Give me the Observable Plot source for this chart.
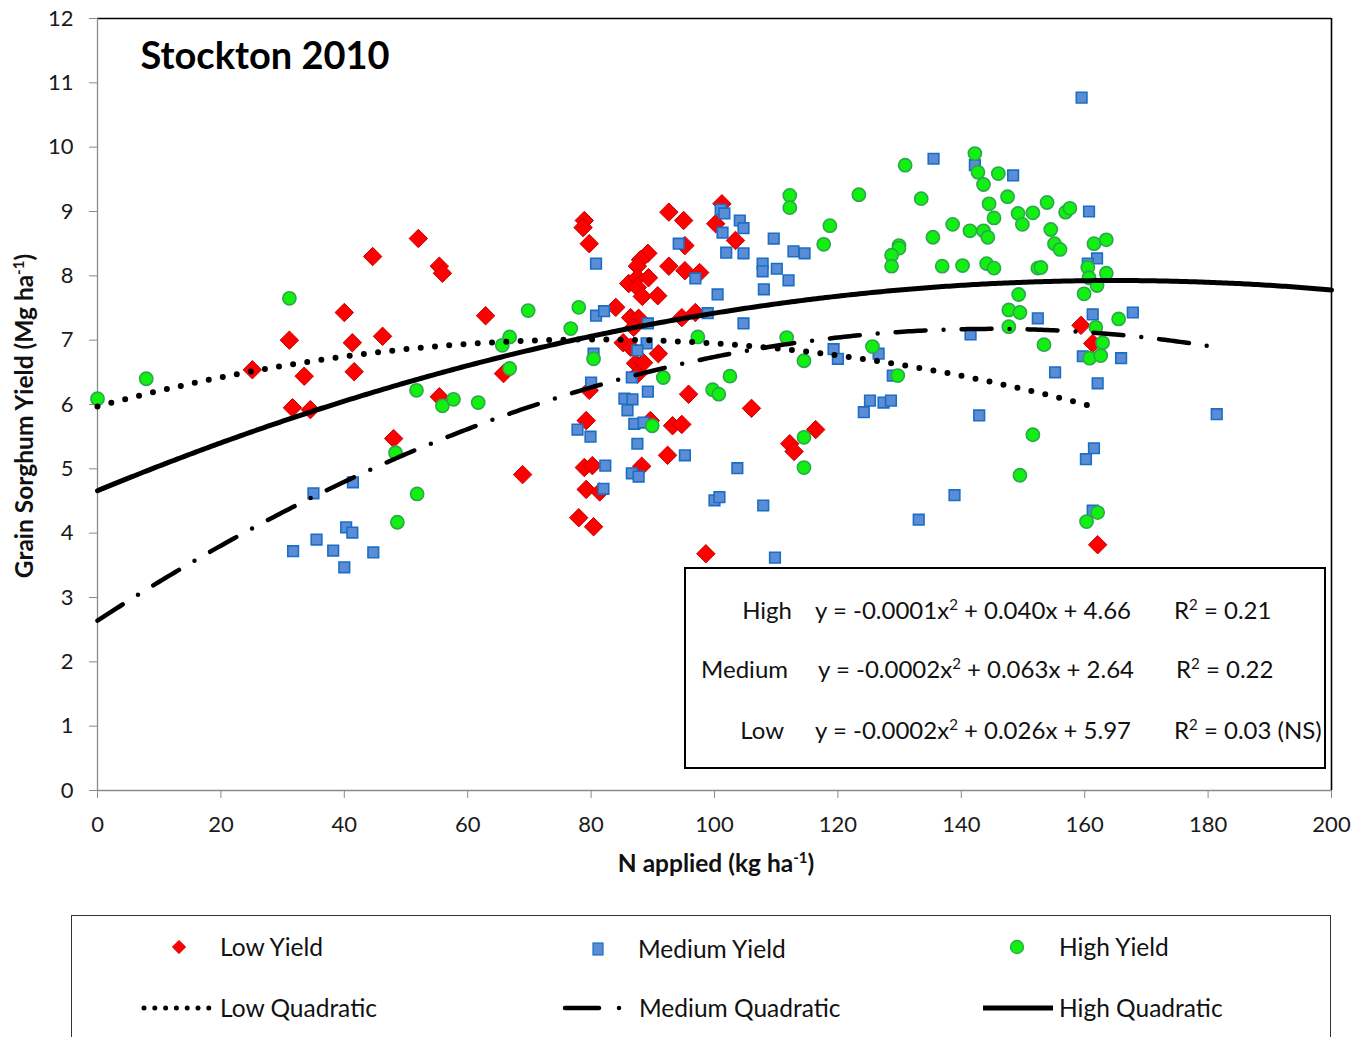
<!DOCTYPE html>
<html>
<head>
<meta charset="utf-8">
<script src="https://cdn.jsdelivr.net/npm/d3@7"></script>
<script src="https://cdn.jsdelivr.net/npm/@observablehq/plot@0.6"></script>
<style>
  body { margin: 0; background: #fff; font-family: Lato, "Open Sans", sans-serif; color: #111; }
  #wrap { position: relative; width: 1356px; height: 900px; }
  #eq { position: absolute; left: 684px; top: 567px; width: 638px; height: 198px; border: 2px solid #000; background: #fff; font-size: 24px; }
  #eq span { position: absolute; white-space: nowrap; line-height: 1; transform: translateY(-50%); }
  #eq sup { font-size: 15px; vertical-align: 9px; line-height: 0; }
  #legend { margin-left: 71px; margin-top: 15px; width: 1258px; height: 122px; border: 1.5px solid #333; border-bottom: none; }
</style>
</head>
<body>
<div id="wrap">
  <div id="chart"></div>
  <div id="eq"></div>
</div>
<div id="legend"></div>
<script>
// Low yield plots: N applied (kg/ha) and grain yield (Mg/ha)
const lowX = [25.1,31.1,31.6,33.5,34.5,40.0,41.3,41.6,44.6,46.2,48.0,52.0,55.4,55.9,62.9,55.4,65.8,68.9,
  78.9,78.7,79.7,92.6,95.0,95.2,89.2,88.0,92.6,95.2,87.5,86.1,87.5,89.3,87.5,88.3,90.8,84.0,86.4,87.7,86.9,
  94.7,96.9,85.2,86.4,90.9,87.2,88.5,87.5,79.7,95.8,79.2,89.6,93.2,94.7,92.4,78.9,80.2,88.2,79.2,81.4,78.0,
  80.4,101.2,100.2,103.4,97.6,106.0,112.2,112.9,116.4,98.6,159.4,161.3,162.1];
const lowY = [6.54,7.00,5.95,6.44,5.92,7.43,6.96,6.51,8.30,7.06,5.47,8.58,8.15,8.04,7.38,6.12,6.48,4.91,
  8.86,8.75,8.50,8.99,8.86,8.47,8.35,8.25,8.15,8.08,8.15,7.88,7.97,7.97,7.82,7.68,7.69,7.51,7.35,7.34,7.20,
  7.35,7.43,6.96,6.89,6.79,6.64,6.65,6.47,6.22,6.16,5.75,5.75,5.67,5.69,5.21,5.02,5.05,5.04,4.68,4.64,4.24,
  4.10,9.12,8.81,8.55,8.05,5.94,5.39,5.27,5.61,3.68,7.23,6.95,3.82];

// Medium yield plots
const medX = [35.0,41.4,40.3,41.3,35.5,31.7,38.2,40.0,44.7,80.8,94.2,96.9,80.8,82.1,89.2,89.0,87.5,80.4,
  80.0,86.6,89.2,85.4,86.7,85.9,87.0,88.5,77.8,79.9,87.5,95.2,82.3,86.6,87.7,82.0,101.0,101.6,104.1,104.7,
  101.3,109.6,101.9,104.7,112.8,114.6,107.8,107.8,110.1,112.0,108.0,100.5,98.9,104.7,119.3,120.0,103.7,
  100.0,100.8,107.9,109.8,135.5,142.2,141.5,126.6,128.9,125.2,127.4,128.6,124.2,142.9,138.9,133.1,159.5,
  148.4,160.7,162.0,160.5,152.4,161.3,167.8,159.7,165.9,155.2,162.1,161.5,160.2,161.3,181.4];
const medY = [4.62,4.79,4.09,4.01,3.90,3.72,3.73,3.47,3.70,8.19,8.50,7.96,7.38,7.45,7.26,6.95,6.84,6.79,
  6.34,6.42,6.20,6.09,6.08,5.91,5.70,5.72,5.61,5.50,5.39,5.21,5.05,4.93,4.88,4.69,9.03,8.97,8.86,8.74,
  8.67,8.58,8.36,8.35,8.38,8.35,8.19,8.07,8.11,7.93,7.79,7.71,7.42,7.26,6.86,6.71,5.01,
  4.51,4.56,4.43,3.62,9.82,9.72,7.09,6.79,6.45,6.06,6.03,6.06,5.88,5.83,4.59,4.21,10.77,
  9.56,9.00,8.27,8.19,7.34,7.40,7.43,6.75,6.72,6.50,6.33,5.32,5.15,4.35,5.85];

// High yield plots
const highX = [0.0,7.9,31.1,48.3,48.6,69.8,66.8,65.6,66.8,51.7,55.9,57.7,61.7,51.8,76.7,78.0,80.4,91.7,
  89.9,97.3,112.2,112.2,118.7,117.7,111.7,114.5,102.5,99.7,100.7,114.5,114.5,142.2,142.7,146.0,143.6,
  130.9,123.4,133.5,144.5,145.3,138.6,141.4,143.6,144.3,135.4,129.9,129.9,128.7,128.7,136.9,140.2,144.1,
  145.3,125.6,129.7,147.5,149.2,151.6,153.9,149.9,156.9,157.6,154.5,155.1,156.0,161.5,163.5,152.4,152.9,
  160.5,160.7,163.5,162.0,159.9,149.3,147.7,149.5,147.7,165.5,161.8,153.4,162.9,160.8,162.6,151.6,149.5,
  160.3,162.1];
const highY = [6.09,6.40,7.65,5.25,4.17,7.46,7.05,6.92,6.56,6.22,5.98,6.08,6.03,4.61,7.18,7.51,6.71,6.42,
  5.67,7.05,9.25,9.06,8.78,8.49,7.04,6.68,6.44,6.23,6.16,5.49,5.02,9.90,9.61,9.59,9.42,
  9.72,9.26,9.20,9.12,8.90,8.80,8.70,8.70,8.60,8.60,8.47,8.43,8.32,8.15,8.15,8.16,8.19,
  8.12,6.90,6.45,9.23,8.97,8.98,9.14,8.80,8.99,9.05,8.72,8.50,8.41,8.50,8.56,8.12,8.13,
  8.13,7.97,8.04,7.85,7.72,7.71,7.47,7.43,7.21,7.33,7.20,6.93,6.96,6.72,6.76,5.53,4.90,
  4.18,4.32];

// Quadratic fits y = a x^2 + b x + c
const fitNames = ["High", "Medium", "Low"];
const fitA = [-0.00012, -0.000216, -0.00016];
const fitB = [0.0396, 0.0626, 0.0258];
const fitC = [4.66, 2.64, 5.97];
const fitR2 = ["0.21", "0.22", "0.03 (NS)"];

const xTicks = [0, 20, 40, 60, 80, 100, 120, 140, 160, 180, 200];
const yTicks = [0, 1, 2, 3, 4, 5, 6, 7, 8, 9, 10, 11, 12];

const toRows = (xs, ys) => xs.map((x, i) => ({x, y: ys[i]}));
const low = toRows(lowX, lowY);
const med = toRows(medX, medY);
const high = toRows(highX, highY);

function curve(i, xmax) {
  const a = fitA[i], b = fitB[i], c = fitC[i];
  return d3.range(0, xmax + 1e-9, 0.5).concat([xmax]).map(x => ({x, y: a * x * x + b * x + c}));
}
const highCurve = curve(0, xTicks[xTicks.length - 1]);
const medCurve = curve(1, d3.max(medX));
const lowCurve = curve(2, d3.max(lowX));

const chart = Plot.plot({
  width: 1356,
  height: 900,
  marginLeft: 97,
  marginRight: 25,
  marginTop: 18,
  marginBottom: 110,
  style: {fontFamily: "Lato, 'Open Sans', sans-serif", fontSize: "22px", color: "#1a1a1a", background: "#fff"},
  x: {domain: [0, 200]},
  y: {domain: [0, 12]},
  marks: [
    Plot.ruleY([12], {stroke: "#000", strokeWidth: 1.6}),
    Plot.ruleX([200], {stroke: "#000", strokeWidth: 1.6}),
    Plot.ruleY([0], {stroke: "#8a8a8a", strokeWidth: 1.3}),
    Plot.ruleX([0], {stroke: "#8a8a8a", strokeWidth: 1.3}),
    Plot.axisX({ticks: xTicks, tickSize: 8, tickPadding: 18, stroke: "#8a8a8a", label: null, fontSize: 22}),
    Plot.axisY({ticks: yTicks, tickSize: 8, tickPadding: 16, stroke: "#8a8a8a", label: null, fontSize: 22}),
    Plot.dot(low, {x: "x", y: "y", symbol: "diamond2", r: 8.3, fill: "#ff0000", stroke: "#c40000", strokeWidth: 1}),
    Plot.dot(med, {x: "x", y: "y", symbol: "square", r: 6.0, fill: "#5b8cd6", stroke: "#1a6fc4", strokeWidth: 1.6}),
    Plot.dot(high, {x: "x", y: "y", symbol: "circle", r: 6.6, fill: "#12f012", stroke: "#2aa84a", strokeWidth: 1.6}),
    Plot.line(lowCurve, {x: "x", y: "y", stroke: "#000", strokeWidth: 6, strokeDasharray: "0,14.3", strokeLinecap: "round"}),
    Plot.line(medCurve, {x: "x", y: "y", stroke: "#000", strokeWidth: 4.5, strokeDasharray: "30,18,0,18", strokeLinecap: "round"}),
    Plot.line(highCurve, {x: "x", y: "y", stroke: "#000", strokeWidth: 5}),
    Plot.text(["Stockton 2010"], {frameAnchor: "top-left", lineAnchor: "middle", dx: 43, dy: 38, textAnchor: "start", fontSize: 38, fontWeight: "bold", fill: "#000"})
  ]
});
document.getElementById("chart").appendChild(chart);

// Axis titles with superscripts
const svg = d3.select(chart);
function unitLabel(g, pre) {
  g.append("tspan").text(pre);
  g.append("tspan").attr("dy", -9).attr("font-size", 15).text("-1");
  g.append("tspan").attr("dy", 9).text(")");
}
const yl = svg.append("text")
  .attr("transform", "translate(33,416) rotate(-90)")
  .attr("text-anchor", "middle").attr("font-weight", "bold").attr("font-size", 24.5).attr("fill", "#111");
unitLabel(yl, "Grain Sorghum Yield (Mg ha");
const xl = svg.append("text")
  .attr("x", 716).attr("y", 872)
  .attr("text-anchor", "middle").attr("font-weight", "bold").attr("font-size", 24.5).attr("fill", "#111");
unitLabel(xl, "N applied (kg ha");

// Regression equations box
const eq = document.getElementById("eq");
const rowY = [41, 100, 161];
const nameRight = [106, 102, 98];
const eqLeft = [129, 132, 129];
const r2Left = [488, 490, 488];
fitNames.forEach((name, i) => {
  const n = document.createElement("span");
  n.textContent = name;
  n.style.right = (638 - nameRight[i]) + "px";
  n.style.top = rowY[i] + "px";
  eq.appendChild(n);
  const e = document.createElement("span");
  e.innerHTML = `y = ${fitA[i].toFixed(4)}x<sup>2</sup> + ${fitB[i].toFixed(3)}x + ${fitC[i].toFixed(2)}`;
  e.style.left = eqLeft[i] + "px";
  e.style.top = rowY[i] + "px";
  eq.appendChild(e);
  const r = document.createElement("span");
  r.innerHTML = `R<sup>2</sup> = ${fitR2[i]}`;
  r.style.left = r2Left[i] + "px";
  r.style.top = rowY[i] + "px";
  eq.appendChild(r);
});

// Legend
const lg = d3.select("#legend").append("svg").attr("width", 1258).attr("height", 122)
  .style("font-family", "Lato, 'Open Sans', sans-serif").style("font-size", "24.5px");
const ox = 71, oy = 915;
const items = [
  {label: "Low Yield", tx: 219, ty: 946, kind: "diamond", sx: 178},
  {label: "Medium Yield", tx: 637, ty: 948, kind: "square", sx: 597},
  {label: "High Yield", tx: 1058, ty: 946, kind: "circle", sx: 1016},
  {label: "Low Quadratic", tx: 219, ty: 1007, kind: "dots", sx: 143, ex: 208},
  {label: "Medium Quadratic", tx: 638, ty: 1007, kind: "dashdot", sx: 564, ex: 622},
  {label: "High Quadratic", tx: 1058, ty: 1007, kind: "solid", sx: 982, ex: 1052}
];
items.forEach(it => {
  const cy = it.ty - oy, cx = it.sx - ox;
  if (it.kind === "diamond") {
    lg.append("path").attr("d", d3.symbol(d3.symbolDiamond2, 110)()).attr("transform", `translate(${cx},${cy})`)
      .attr("fill", "#ff0000").attr("stroke", "#c40000");
  } else if (it.kind === "square") {
    lg.append("rect").attr("x", cx - 5).attr("y", cy - 6).attr("width", 10).attr("height", 12)
      .attr("fill", "#5b8cd6").attr("stroke", "#1a6fc4").attr("stroke-width", 1.2);
  } else if (it.kind === "circle") {
    lg.append("circle").attr("cx", cx).attr("cy", cy).attr("r", 6.5)
      .attr("fill", "#12f012").attr("stroke", "#2aa84a").attr("stroke-width", 1.3);
  } else {
    const line = lg.append("line").attr("x1", cx).attr("x2", it.ex - ox).attr("y1", cy).attr("y2", cy)
      .attr("stroke", "#000").attr("stroke-linecap", "round");
    if (it.kind === "dots") line.attr("stroke-width", 5).attr("stroke-dasharray", "0,10.8");
    if (it.kind === "dashdot") line.attr("stroke-width", 4.5).attr("stroke-dasharray", "34,20,0,20");
    if (it.kind === "solid") line.attr("stroke-width", 5).attr("stroke-linecap", "butt");
  }
  lg.append("text").attr("x", it.tx - ox).attr("y", cy).attr("dy", "0.35em").attr("fill", "#111").text(it.label);
});
</script>
</body>
</html>
